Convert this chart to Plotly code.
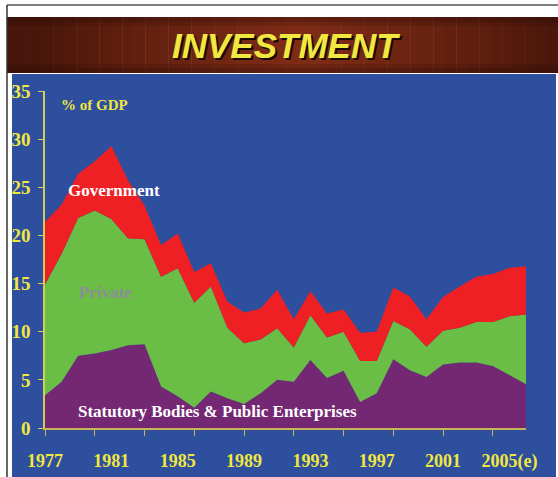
import plotly.graph_objects as go

years = list(range(1977, 2007))
# cumulative readings converted to component values (% of GDP)
statutory = [3.4, 4.8, 7.5, 7.75, 8.1, 8.6, 8.7, 4.3, 3.3, 2.1,
             3.8, 3.1, 2.5, 3.6, 5.0, 4.8, 7.05, 5.2, 5.95, 2.7,
             3.6, 7.15, 6.0, 5.3, 6.6, 6.8, 6.8, 6.45, 5.5, 4.55]
private = [11.5, 13.3, 14.3, 14.85, 13.6, 11.1, 10.9, 11.4, 13.3, 10.9,
           10.9, 7.3, 6.3, 5.6, 5.35, 3.55, 4.65, 4.2, 4.05, 4.25,
           3.35, 3.95, 4.25, 3.15, 3.5, 3.6, 4.2, 4.55, 6.1, 7.25]
government = [6.5, 5.1, 4.6, 5.1, 7.6, 6.05, 3.5, 3.3, 3.6, 3.2,
              2.4, 2.7, 3.2, 3.2, 4.0, 2.95, 2.5, 2.5, 2.3, 2.95,
              3.05, 3.5, 3.4, 2.85, 3.5, 4.3, 4.7, 5.0, 5.05, 5.0]

tick_years = list(range(1977, 2006, 3))
label_years = [1977, 1981, 1985, 1989, 1993, 1997, 2001, 2005]
label_text = ["1977", "1981", "1985", "1989", "1993", "1997", "2001", "2005(e)"]
y_ticks = [0, 5, 10, 15, 20, 25, 30, 35]

BLUE = "#2E4E9E"
YELLOW = "#F0E840"
SERIF = "Liberation Serif, Times New Roman, serif"
SANS = "Liberation Sans Narrow, Arial Narrow, Liberation Sans, Arial"

W, H = 558, 477
L, R, T, B = 45, 526, 91, 428


def px(x):
    return (x - L) / (R - L)


def py(y):
    return (B - y) / (B - T)


fig = go.Figure()
for name, vals, col in [("Statutory Bodies & Public Enterprises", statutory, "#742874"),
                        ("Private", private, "#6ABD45"),
                        ("Government", government, "#EE2024")]:
    fig.add_trace(go.Scatter(x=years, y=vals, name=name, mode="lines",
                             stackgroup="one", line=dict(width=0, color=col),
                             fillcolor=col, hoverinfo="x+y+name"))

shapes = []
# blue panel
shapes.append(dict(type="rect", xref="paper", yref="paper", x0=px(12), x1=px(556),
                   y0=py(74), y1=py(480), fillcolor=BLUE, line=dict(width=0), layer="below"))
# title band gradient
n = 48
x_start, x_end = 7, 560
for i in range(n):
    xa = x_start + (x_end - x_start) * i / n
    xb = x_start + (x_end - x_start) * (i + 1) / n + 0.5
    c = (xa + xb) / 2
    t = max(0.0, 1 - abs(c - 300) / 260)
    t = t ** 0.8
    r = int(72 + (128 - 72) * t)
    g = int(22 + (44 - 22) * t)
    b = int(10 + (22 - 10) * t)
    shapes.append(dict(type="rect", xref="paper", yref="paper", x0=px(xa), x1=px(xb),
                       y0=py(73), y1=py(17), fillcolor=f"rgb({r},{g},{b})",
                       line=dict(width=0), layer="below"))
for (ya, yb, op) in [(17, 22, 0.35), (22, 26, 0.18), (64, 68, 0.18), (68, 73, 0.35)]:
    shapes.append(dict(type="rect", xref="paper", yref="paper", x0=px(7), x1=px(560),
                       y0=py(yb), y1=py(ya), fillcolor=f"rgba(40,10,5,{op})",
                       line=dict(width=0), layer="below"))
# frame lines
shapes.append(dict(type="line", xref="paper", yref="paper", x0=px(7), x1=px(560),
                   y0=py(5), y1=py(5), line=dict(color="#555555", width=1.5)))
shapes.append(dict(type="line", xref="paper", yref="paper", x0=px(7), x1=px(7),
                   y0=py(5), y1=py(480), line=dict(color="#333333", width=1.5)))


def ann(text, x, y, size, color, family=SERIF):
    return dict(text=text, x=px(x), y=py(y), xref="paper", yref="paper",
                xanchor="center", yanchor="middle", showarrow=False,
                font=dict(family=family, size=size, color=color))


annotations = [
    ann("<b><i>INVESTMENT</i></b>", 286 + 2, 46 + 2, 35, "#1A0A05", SANS),
    ann("<b><i>INVESTMENT</i></b>", 286, 46, 35, YELLOW, SANS),
    ann("<b>% of GDP</b>", 94, 105, 15, YELLOW),
    ann("<b>Government</b>", 114, 190, 17, "white"),
    ann("<b>Private</b>", 105, 292, 17, "#8E8E98"),
    ann("<b>Statutory Bodies &amp; Public Enterprises</b>", 217, 411, 17, "white"),
]

fig.update_layout(
    width=W, height=H,
    margin=dict(l=L, r=W - R, t=T, b=H - B, pad=0, autoexpand=False),
    paper_bgcolor="white", plot_bgcolor=BLUE,
    showlegend=False,
    shapes=shapes, annotations=annotations,
    xaxis=dict(range=[1977, 2006], tickvals=tick_years, showticklabels=False,
               ticks="outside", ticklen=6, tickcolor="#C9B45A", tickwidth=1.2, automargin=False,
               showline=True, linecolor="#C9B45A", linewidth=2, showgrid=False, zeroline=False),
    xaxis2=dict(range=[1977, 2006], overlaying="x", anchor="y", side="bottom", automargin=False,
                tickvals=label_years, ticktext=label_text, ticks="outside", ticklen=16,
                tickcolor="rgba(0,0,0,0)", showline=False, showgrid=False, zeroline=False,
                tickfont=dict(family=SERIF, size=18, color=YELLOW, weight="bold"), tickangle=0),
    yaxis=dict(range=[0, 35], tickvals=y_ticks, ticks="outside", ticklen=5, automargin=False,
               tickcolor="#D4CC58", tickwidth=1.2, showline=True, linecolor="#D4CC58",
               linewidth=1.5, showgrid=False, zeroline=False, ticklabelstandoff=4,
               tickfont=dict(family=SERIF, size=19, color=YELLOW, weight="bold")),
)
fig.add_trace(go.Scatter(x=[1977], y=[0], xaxis="x2", mode="markers",
                         marker=dict(opacity=0), hoverinfo="skip", showlegend=False))
fig.write_html("out.html", post_script="document.body.style.margin='0px';",
               config={"displayModeBar": False})
